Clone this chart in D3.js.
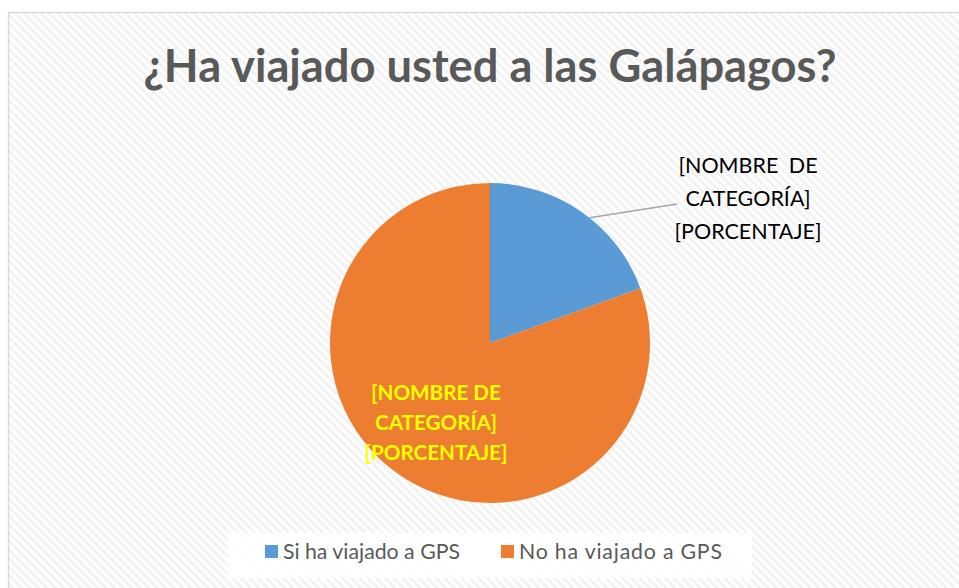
<!DOCTYPE html>
<meta charset="utf-8">
<script src="https://d3js.org/d3.v7.min.js"></script>
<style>
  body { margin: 0; background: #fff; }
  text { font-family: Lato, "Open Sans", sans-serif; }
</style>
<div id="chart"></div>
<script>

// data
var categories = ["Si ha viajado a GPS", "No ha viajado a GPS"];
var values = [7, 29];
var colors = ["#5B9BD5", "#ED7D31"];
var labelLines = ["[NOMBRE DE", "CATEGORÍA]", "[PORCENTAJE]"];
var title = "¿Ha viajado usted a las Galápagos?";

var width = 959, height = 588;

var svg = d3.select("#chart")
  .append("svg")
    .attr("width", width)
    .attr("height", height);

// faint diagonal hatch background
var defs = svg.append("defs");
var pat = defs.append("pattern")
    .attr("id", "hatch")
    .attr("patternUnits", "userSpaceOnUse")
    .attr("width", 6)
    .attr("height", 6)
    .attr("patternTransform", "rotate(-45)");
pat.append("rect").attr("width", 6).attr("height", 6).attr("fill", "#ffffff");
pat.append("rect").attr("x", 0).attr("width", 3).attr("height", 6).attr("fill", "#f3f3f3");

svg.append("rect")
  .attr("x", 8.5).attr("y", 12.5)
  .attr("width", 960).attr("height", 590)
  .attr("fill", "url(#hatch)")
  .attr("stroke", "#d9d9d9")
  .attr("stroke-width", 1.5);

// scale a text's font so it spans a target width
function fit(sel, w) {
  var cur = sel.node().getComputedTextLength();
  var fs = parseFloat(sel.style("font-size"));
  sel.style("font-size", (fs * w / cur) + "px");
}

var t = svg.append("text")
  .attr("x", 490)
  .attr("y", 82)
  .attr("text-anchor", "middle")
  .style("font-size", "40px")
  .style("font-weight", "bold")
  .style("fill", "#595959")
  .text(title);
fit(t, 693);

// pie
var cx = 490, cy = 343, r = 160;
var pie = d3.pie().sort(null).value(function(d) { return d; });
var arcs = pie(values);
var arc = d3.arc().innerRadius(0).outerRadius(r);

var g = svg.append("g").attr("transform", "translate(" + cx + "," + cy + ")");
g.selectAll("path")
  .data(arcs)
  .enter()
  .append("path")
    .attr("d", arc)
    .attr("fill", function(d, i) { return colors[i]; });

// outside label for the small slice, with leader line
var a0 = arcs[0];
var ang = a0.startAngle + (a0.endAngle - a0.startAngle) * 0.55;
var px = Math.sin(ang) * r, py = -Math.cos(ang) * r;
g.append("line")
  .attr("x1", px).attr("y1", py)
  .attr("x2", 677 - cx).attr("y2", 204 - cy)
  .attr("stroke", "#a6a6a6")
  .attr("stroke-width", 1.5);

var outLabel = svg.append("text")
  .attr("text-anchor", "middle")
  .style("font-size", "22px")
  .style("fill", "#000");
outLabel.selectAll("tspan")
  .data(labelLines)
  .enter()
  .append("tspan")
    .attr("x", 748)
    .attr("y", function(d, i) { return 173 + i * 33; })
    .text(function(d) { return d; });
fit(outLabel.select("tspan:nth-child(3)"), 147);
outLabel.style("font-size", outLabel.select("tspan:nth-child(3)").style("font-size"));
outLabel.selectAll("tspan").style("font-size", null);
outLabel.select("tspan").style("word-spacing", "5px");

// inside label for the large slice
var inLabel = svg.append("text")
  .attr("text-anchor", "middle")
  .style("font-size", "20px")
  .style("font-weight", "bold")
  .style("fill", "#ffff00");
inLabel.selectAll("tspan")
  .data(labelLines)
  .enter()
  .append("tspan")
    .attr("x", 436)
    .attr("y", function(d, i) { return 400 + i * 30; })
    .text(function(d) { return d; });
var last = inLabel.select("tspan:nth-child(3)");
fit(last, 143);
inLabel.style("font-size", last.style("font-size"));
inLabel.selectAll("tspan").style("font-size", null);

// legend
svg.append("rect")
  .attr("x", 228).attr("y", 533)
  .attr("width", 524).attr("height", 45)
  .attr("fill", "#ffffff")
  .attr("opacity", 0.85);

var legX = [265, 501];
var legW = [177, 203];
var leg = svg.selectAll(".leg")
  .data(categories)
  .enter()
  .append("g")
    .attr("class", "leg")
    .attr("transform", function(d, i) { return "translate(" + legX[i] + ",545)"; });
leg.append("rect")
  .attr("width", 13).attr("height", 13)
  .attr("fill", function(d, i) { return colors[i]; });
var legText = leg.append("text")
  .attr("x", 18)
  .attr("y", 14)
  .style("font-size", "20px")
  .style("fill", "#595959")
  .text(function(d) { return d; });
fit(legText.filter(function(d, i) { return i == 0; }), legW[0]);
var legFs = legText.filter(function(d, i) { return i == 0; }).style("font-size");
legText.style("font-size", legFs)
  .attr("textLength", function(d, i) { return legW[i]; })
  .attr("lengthAdjust", "spacing");

</script>
